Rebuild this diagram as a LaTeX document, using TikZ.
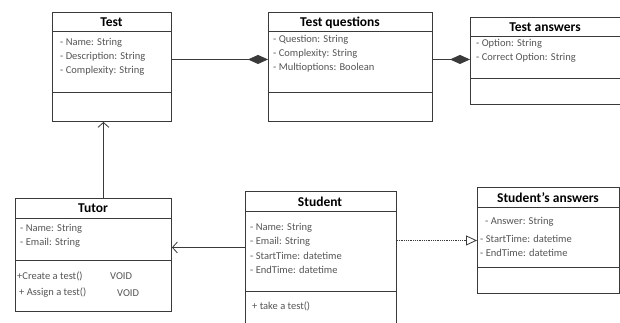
\documentclass[tikz,border=0pt]{standalone}
\usepackage{fontspec}
\setmainfont{Carlito}
\usetikzlibrary{arrows.meta}
\definecolor{boxline}{HTML}{3A3A3A}
\definecolor{attrtext}{HTML}{555555}
\tikzset{
  classbox/.style={draw=boxline, line width=0.9pt, rectangle, inner sep=0pt, anchor=north west},
  divider/.style={draw=boxline, line width=0.9pt},
  ctitle/.style={font=\fontsize{13.5}{14}\selectfont\bfseries, text=black, inner sep=0pt},
  attr/.style={font=\fontsize{10.5}{12}\selectfont, text=attrtext, anchor=west, inner sep=0pt},
  link/.style={draw=boxline, line width=0.8pt},
  composition/.style={link, -{Diamond[length=20pt,width=9pt]}},
  openhead/.style={link, -{Straight Barb[length=5pt,width=11pt,line width=0.8pt]}},
  realize/.style={link, densely dotted, -{Triangle[open,length=11pt,width=10pt,line width=0.8pt]}}
}
\begin{document}
\begin{tikzpicture}[x=1pt,y=-1pt]
\useasboundingbox (0,0) rectangle (620,322);
\clip (0,0) rectangle (620,322);
\fill[white] (0,0) rectangle (620,322);

% ---- Test ----
\node[classbox, minimum width=119pt, minimum height=109pt] (test) at (52,12) {};
\draw[divider] (52,31) -- (171,31);
\draw[divider] (52,92) -- (171,92);
\node[ctitle] (testT) at (111.5,22) {Test};
\node[attr] (testA1) at (60,43) {- Name: String};
\node[attr] (testA2) at (60,57) {- Description: String};
\node[attr] (testA3) at (60,71) {- Complexity: String};

% ---- Test questions ----
\node[classbox, minimum width=164pt, minimum height=109pt] (tq) at (268,12) {};
\draw[divider] (268,31) -- (432,31);
\draw[divider] (268,92) -- (432,92);
\node[ctitle] (tqT) at (340,23) {Test questions};
\node[attr] (tqA1) at (273,40) {- Question: String};
\node[attr] (tqA2) at (273,54) {- Complexity: String};
\node[attr] (tqA3) at (273,68) {- Multioptions: Boolean};

% ---- Test answers ----
\node[classbox, minimum width=150pt, minimum height=87pt] (ta) at (470,17) {};
\draw[divider] (470,36) -- (620,36);
\draw[divider] (470,78) -- (620,78);
\node[ctitle] (taT) at (545,27) {Test answers};
\node[attr] (taA1) at (476,44) {- Option: String};
\node[attr] (taA2) at (476,58) {- Correct Option: String};

% ---- Tutor ----
\node[classbox, minimum width=156pt, minimum height=113pt] (tutor) at (15,198) {};
\draw[divider] (15,218) -- (171,218);
\draw[divider] (15,260) -- (171,260);
\node[ctitle] (tutorT) at (93,208) {Tutor};
\node[attr] (tutorA1) at (20,229) {- Name: String};
\node[attr] (tutorA2) at (20,243) {- Email: String};
\node[attr] (tutorM1) at (17,276) {+Create a test()};
\node[attr] (tutorV1) at (110,276) {VOID};
\node[attr] (tutorM2) at (19,293) {+ Assign a test()};
\node[attr] (tutorV2) at (117,293) {VOID};

% ---- Student ----
\node[classbox, minimum width=151pt, minimum height=140pt] (student) at (245,191) {};
\draw[divider] (245,211) -- (396,211);
\draw[divider] (245,291) -- (396,291);
\node[ctitle] (studentT) at (320,202) {Student};
\node[attr] (studentA1) at (250,228) {- Name: String};
\node[attr] (studentA2) at (250,242) {- Email: String};
\node[attr] (studentA3) at (250,256) {- StartTime: datetime};
\node[attr] (studentA4) at (250,270) {- EndTime: datetime};
\node[attr] (studentM1) at (252,306) {+ take a test()};

% ---- Student's answers ----
\node[classbox, minimum width=142pt, minimum height=106pt] (sa) at (477,187) {};
\draw[divider] (477,207) -- (619,207);
\draw[divider] (477,267) -- (619,267);
\node[ctitle] (saT) at (548,198) {Student's answers};
\node[attr] (saA1) at (485,222) {- Answer: String};
\node[attr] (saA2) at (480,239) {- StartTime: datetime};
\node[attr] (saA3) at (480,253) {- EndTime: datetime};

% ---- connector end points ----
\coordinate (testOut) at ([yshift=7.5pt]test.east);
\coordinate (tqIn) at ([yshift=7.5pt]tq.west);
\coordinate (tqOut) at ([yshift=7.5pt]tq.east);
\coordinate (testBase) at ([xshift=-8.5pt]test.south);
\coordinate (tutorIn) at ([yshift=7.5pt]tutor.east);

% ---- connectors ----
\draw[composition] (testOut) -- (tqIn);
\draw[composition] (tqOut) -- (ta.west |- tqOut);
\draw[openhead] (tutor.north -| testBase) -- (testBase);
\draw[openhead] (student.west |- tutorIn) -- (tutorIn);
\draw[realize] (student.east |- sa.west) -- (sa.west);
\end{tikzpicture}
\end{document}
